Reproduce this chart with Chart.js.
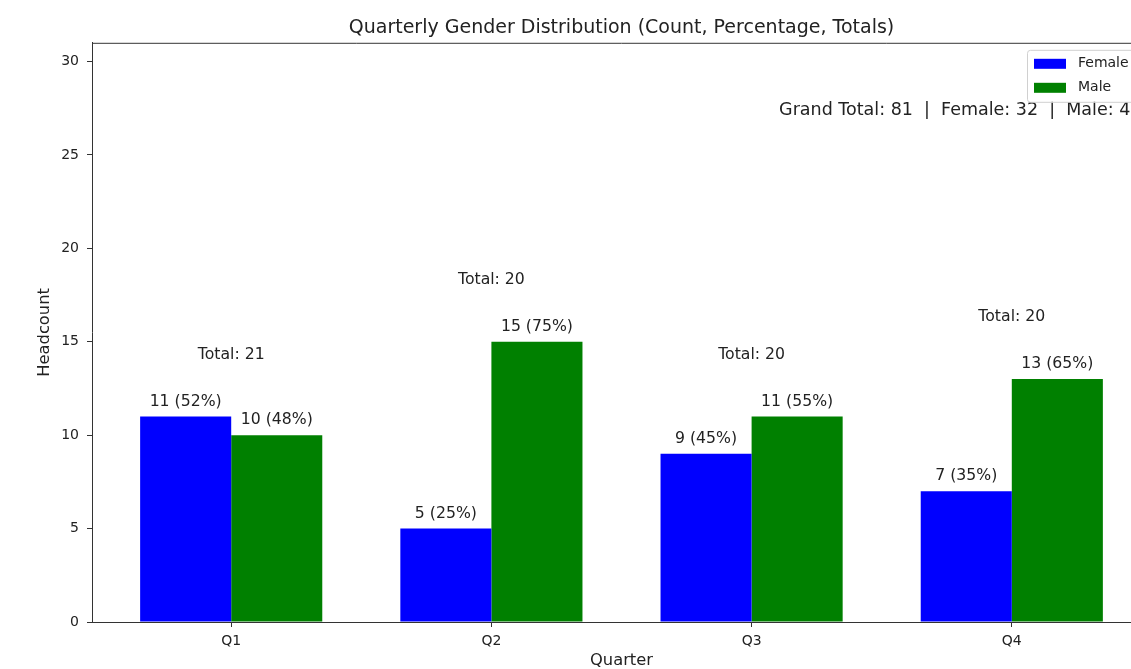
<!DOCTYPE html>
<html>
<head>
<meta charset="utf-8">
<script src="https://cdn.jsdelivr.net/npm/chart.js@4.4.1/dist/chart.umd.min.js"></script>
<style>
  html, body { margin: 0; padding: 0; background: #fff; overflow: hidden; }
  #wrap { width: 1170px; height: 669px; }
</style>
</head>
<body>
<div id="wrap"><canvas id="chart" width="1170" height="669"></canvas></div>
<script>
/* ---------- data ---------- */
const quarters = ["Q1", "Q2", "Q3", "Q4"];
const female   = [11, 5, 9, 7];
const male     = [10, 15, 11, 13];
const yTicks   = [0, 5, 10, 15, 20, 25, 30];
const yMax     = 31;

const FONT = "'DejaVu Sans', sans-serif";
const INK  = "#222";

const totals = quarters.map((q, i) => female[i] + male[i]);
const sum = arr => arr.reduce((a, b) => a + b, 0);

/* ---------- plugins ---------- */
// closes the axes box (top + right spines)
const frame = {
  id: "frame",
  afterDraw(chart) {
    const { ctx, chartArea: a } = chart;
    ctx.save();
    ctx.strokeStyle = "#333";
    ctx.lineWidth = 1;
    ctx.beginPath();
    ctx.moveTo(a.left, a.top + 0.5);
    ctx.lineTo(a.right, a.top + 0.5);
    ctx.moveTo(a.right - 0.5, a.top);
    ctx.lineTo(a.right - 0.5, a.bottom);
    ctx.stroke();
    ctx.restore();
  }
};

// count/percent labels, per-quarter totals, grand total, legend
const annotations = {
  id: "annotations",
  afterDatasetsDraw(chart) {
    const { ctx, chartArea: a, scales } = chart;
    ctx.save();
    ctx.fillStyle = INK;
    ctx.textAlign = "center";
    ctx.textBaseline = "bottom";
    ctx.font = "15.7px " + FONT;

    chart.data.datasets.forEach((ds, di) => {
      chart.getDatasetMeta(di).data.forEach((bar, i) => {
        const v = ds.data[i].y;
        const pct = Math.round(v / totals[i] * 100);
        ctx.fillText(v + " (" + pct + "%)", bar.x, bar.y - 7);
      });
    });

    quarters.forEach((q, i) => {
      const top = Math.max(female[i], male[i]) + 3;
      ctx.fillText("Total: " + totals[i], scales.x.getPixelForValue(i), scales.y.getPixelForValue(top) + 2);
    });

    // grand total line
    ctx.textAlign = "right";
    ctx.textBaseline = "top";
    ctx.font = "17.5px " + FONT;
    const grand = "Grand Total: " + (sum(female) + sum(male)) +
                  "  |  Female: " + sum(female) + "  |  Male: " + sum(male);
    ctx.fillText(grand, a.right - 0.01 * (a.right - a.left) + 1, a.top + 0.1 * (a.bottom - a.top) + 1);

    // legend, upper right inside the axes
    const bx = a.right - 124, by = a.top + 7, bw = 117, bh = 52;
    ctx.fillStyle = "rgba(255,255,255,0.8)";
    ctx.strokeStyle = "#d0d0d0";
    ctx.beginPath();
    ctx.roundRect(bx + 0.5, by + 0.5, bw, bh, 3);
    ctx.fill();
    ctx.stroke();
    ctx.font = "14px " + FONT;
    ctx.textAlign = "left";
    ctx.textBaseline = "middle";
    chart.data.datasets.forEach((ds, di) => {
      const cy = by + 14 + di * 24;
      ctx.fillStyle = ds.backgroundColor;
      ctx.fillRect(bx + 7, cy - 5, 32, 10);
      ctx.fillStyle = INK;
      ctx.fillText(ds.label, bx + 51, cy);
    });
    ctx.restore();
  }
};

/* ---------- chart ---------- */
const ctx = document.getElementById("chart").getContext("2d");

new Chart(ctx, {
  type: "bar",
  data: {
    datasets: [
      {
        label: "Female",
        data: female.map((v, i) => ({ x: i, y: v })),
        backgroundColor: "#0000ff",
        categoryPercentage: 0.7,
        barPercentage: 1.0
      },
      {
        label: "Male",
        data: male.map((v, i) => ({ x: i, y: v })),
        backgroundColor: "#008000",
        categoryPercentage: 0.7,
        barPercentage: 1.0
      }
    ]
  },
  options: {
    responsive: false,
    animation: false,
    devicePixelRatio: 1,
    layout: { padding: { left: 0, right: 19, top: 0, bottom: 0 } },
    plugins: {
      legend: { display: false },
      tooltip: { enabled: false },
      title: {
        display: true,
        fullSize: false,
        text: "Quarterly Gender Distribution (Count, Percentage, Totals)",
        color: INK,
        font: { family: FONT, size: 19, weight: "normal" },
        padding: { top: 17, bottom: 3 }
      }
    },
    scales: {
      x: {
        type: "linear",
        offset: false,
        min: -0.535,
        max: 3.535,
        afterBuildTicks: axis => { axis.ticks = quarters.map((q, i) => ({ value: i })); },
        afterFit: axis => { axis.height = 47; },
        ticks: {
          color: INK,
          font: { family: FONT, size: 14 },
          padding: 6,
          callback: v => quarters[v]
        },
        grid: { offset: false, drawOnChartArea: false, drawTicks: true, tickLength: 5, tickColor: "#333" },
        border: { display: true, color: "#333", width: 1 },
        title: {
          display: true,
          text: "Quarter",
          color: INK,
          font: { family: FONT, size: 16.3, lineHeight: 1 },
          padding: { top: 0, bottom: 0 }
        }
      },
      y: {
        min: 0,
        max: yMax,
        afterBuildTicks: axis => { axis.ticks = yTicks.map(v => ({ value: v })); },
        afterFit: axis => { axis.width = 92; },
        ticks: { color: INK, font: { family: FONT, size: 14 }, padding: 8 },
        grid: { drawOnChartArea: false, drawTicks: true, tickLength: 5, tickColor: "#333" },
        border: { display: true, color: "#333", width: 1 },
        title: {
          display: true,
          text: "Headcount",
          color: INK,
          font: { family: FONT, size: 16.3, lineHeight: 1 },
          padding: { top: 37, bottom: 0 }
        }
      }
    }
  },
  plugins: [frame, annotations]
});
</script>
</body>
</html>
